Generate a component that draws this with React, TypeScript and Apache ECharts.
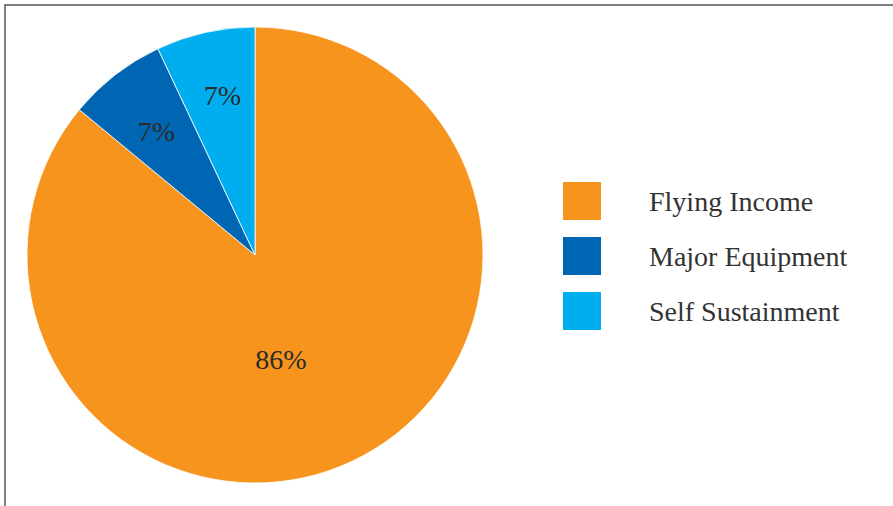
import React, { useEffect, useRef } from "react";
import * as echarts from "echarts";

const categories = ["Flying Income", "Major Equipment", "Self Sustainment"];
const values = [86, 7, 7];
const colors = ["#F7941D", "#0066B3", "#00AEEF"];
const labelOffsets: [number, number][] = [
  [-24, -1],
  [-27, -31],
  [-7, -45],
];

export default function App() {
  const ref = useRef<HTMLDivElement>(null);
  useEffect(() => {
    document.body.style.margin = "0";
    const chart = echarts.init(ref.current!, undefined, { renderer: "svg" });
    const font = "'Liberation Serif', 'DejaVu Serif', serif";
    chart.setOption({
      animation: false,
      backgroundColor: "#ffffff",
      legend: {
        orient: "vertical",
        left: 556,
        top: 175,
        itemWidth: 40,
        itemHeight: 40,
        itemGap: 13,
        icon: "rect",
        selectedMode: false,
        data: categories,
        textStyle: {
          fontFamily: font,
          fontSize: 28,
          color: "#333333",
          padding: [0, 0, 0, 42],
        },
      },
      graphic: [
        {
          type: "polyline",
          shape: {
            points: [
              [5, 506],
              [5, 5],
              [893, 5],
            ],
          },
          style: { stroke: "#555555", lineWidth: 1.5, fill: "none" },
          silent: true,
        },
      ],
      series: [
        {
          type: "pie",
          center: [255, 255],
          radius: [0, 228],
          startAngle: 90,
          clockwise: true,
          avoidLabelOverlap: false,
          itemStyle: { borderColor: "#ffffff", borderWidth: 0.8 },
          label: {
            show: true,
            position: "inside",
            formatter: "{c}%",
            fontFamily: font,
            fontSize: 28,
            color: "#2b2b2b",
          },
          labelLine: { show: false },
          emphasis: { disabled: true },
          data: categories.map((name, i) => ({
            name,
            value: values[i],
            itemStyle: { color: colors[i] },
            label: { offset: labelOffsets[i] },
          })),
        },
      ],
    });
    return () => chart.dispose();
  }, []);
  return (
    <div
      ref={ref}
      style={{ position: "absolute", left: 0, top: 0, width: 893, height: 506 }}
    />
  );
}
